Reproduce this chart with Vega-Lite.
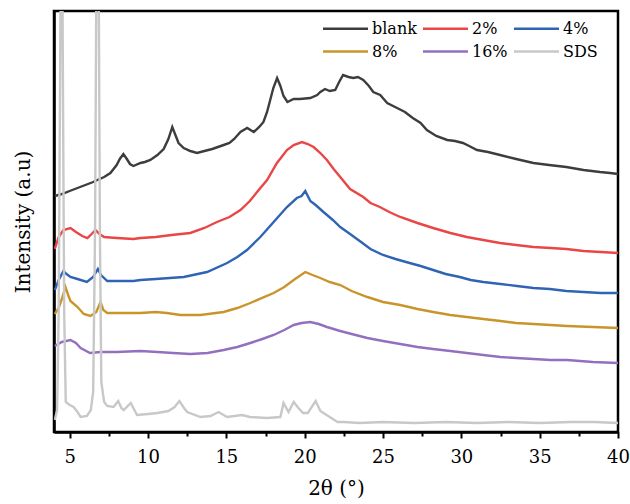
{
 "$schema": "https://vega.github.io/schema/vega-lite/v6.json",
 "width": 564, "height": 421,
 "autosize": {"type": "none"},
 "padding": {"left": 54, "top": 11, "right": 12, "bottom": 72},
 "background": "white",
 "config": {
  "font": "DejaVu Serif",
  "view": {"stroke": "black", "strokeWidth": 2.5},
  "axis": {"grid": false, "domainColor": "black", "domainWidth": 2.5, "tickColor": "black", "labelColor": "black", "titleColor": "black", "titleFontWeight": "normal", "labelFont": "DejaVu Serif", "titleFont": "DejaVu Serif"}
 },
 "datasets": {
  "xrd": [
   {"s":"blank","x":4.05,"y":236},{"s":"blank","x":4.5,"y":238},{"s":"blank","x":5,"y":241},{"s":"blank","x":5.5,"y":244},{"s":"blank","x":6,"y":247},{"s":"blank","x":6.5,"y":250},{"s":"blank","x":6.77,"y":252},{"s":"blank","x":7.2,"y":255},{"s":"blank","x":7.6,"y":259},{"s":"blank","x":8.0,"y":267},{"s":"blank","x":8.2,"y":273},{"s":"blank","x":8.43,"y":278},{"s":"blank","x":8.65,"y":273},{"s":"blank","x":8.85,"y":268},{"s":"blank","x":9.07,"y":266},{"s":"blank","x":9.52,"y":269},{"s":"blank","x":9.8,"y":270},{"s":"blank","x":10.15,"y":272},{"s":"blank","x":10.6,"y":277},{"s":"blank","x":11.0,"y":283},{"s":"blank","x":11.3,"y":293},{"s":"blank","x":11.55,"y":305},{"s":"blank","x":11.75,"y":297},{"s":"blank","x":11.95,"y":289},{"s":"blank","x":12.28,"y":284},{"s":"blank","x":12.7,"y":281},{"s":"blank","x":13.13,"y":279},{"s":"blank","x":13.6,"y":281},{"s":"blank","x":14.1,"y":283},{"s":"blank","x":14.83,"y":287},{"s":"blank","x":15.2,"y":289},{"s":"blank","x":15.5,"y":293},{"s":"blank","x":15.9,"y":300},{"s":"blank","x":16.33,"y":304},{"s":"blank","x":16.75,"y":300},{"s":"blank","x":17.1,"y":305},{"s":"blank","x":17.37,"y":310},{"s":"blank","x":17.6,"y":320},{"s":"blank","x":17.8,"y":332},{"s":"blank","x":18.0,"y":344},{"s":"blank","x":18.24,"y":354},{"s":"blank","x":18.45,"y":346},{"s":"blank","x":18.65,"y":336},{"s":"blank","x":18.9,"y":330},{"s":"blank","x":19.3,"y":333},{"s":"blank","x":19.7,"y":333},{"s":"blank","x":20.36,"y":334},{"s":"blank","x":20.8,"y":337},{"s":"blank","x":21.0,"y":340},{"s":"blank","x":21.3,"y":343},{"s":"blank","x":21.6,"y":341},{"s":"blank","x":21.95,"y":342},{"s":"blank","x":22.2,"y":350},{"s":"blank","x":22.45,"y":357},{"s":"blank","x":22.8,"y":355},{"s":"blank","x":23.1,"y":354},{"s":"blank","x":23.4,"y":355},{"s":"blank","x":23.74,"y":352},{"s":"blank","x":24.1,"y":346},{"s":"blank","x":24.38,"y":340},{"s":"blank","x":24.82,"y":337},{"s":"blank","x":25.27,"y":329},{"s":"blank","x":25.9,"y":324},{"s":"blank","x":26.4,"y":320},{"s":"blank","x":26.9,"y":314},{"s":"blank","x":27.4,"y":309},{"s":"blank","x":27.8,"y":302},{"s":"blank","x":28.4,"y":296},{"s":"blank","x":29.1,"y":292},{"s":"blank","x":29.6,"y":291},{"s":"blank","x":30.1,"y":289},{"s":"blank","x":30.5,"y":286},{"s":"blank","x":31.0,"y":282},{"s":"blank","x":31.7,"y":280},{"s":"blank","x":32.47,"y":277},{"s":"blank","x":33.5,"y":273},{"s":"blank","x":34.6,"y":269},{"s":"blank","x":35.6,"y":267},{"s":"blank","x":36.7,"y":265},{"s":"blank","x":37.8,"y":262},{"s":"blank","x":38.85,"y":260},{"s":"blank","x":39.5,"y":259},{"s":"blank","x":40,"y":258},
   {"s":"2%","x":4.05,"y":183},{"s":"2%","x":4.3,"y":195},{"s":"2%","x":4.6,"y":202},{"s":"2%","x":5.05,"y":204},{"s":"2%","x":5.4,"y":200},{"s":"2%","x":5.8,"y":196},{"s":"2%","x":6.13,"y":194},{"s":"2%","x":6.4,"y":198},{"s":"2%","x":6.65,"y":202},{"s":"2%","x":6.9,"y":198},{"s":"2%","x":7.2,"y":195},{"s":"2%","x":8.0,"y":194},{"s":"2%","x":9.07,"y":193},{"s":"2%","x":9.52,"y":194},{"s":"2%","x":10.5,"y":195},{"s":"2%","x":11.5,"y":197},{"s":"2%","x":12.7,"y":199},{"s":"2%","x":13.6,"y":204},{"s":"2%","x":14.4,"y":210},{"s":"2%","x":15.2,"y":215},{"s":"2%","x":15.9,"y":222},{"s":"2%","x":16.5,"y":231},{"s":"2%","x":16.96,"y":240},{"s":"2%","x":17.6,"y":252},{"s":"2%","x":18.23,"y":269},{"s":"2%","x":18.87,"y":282},{"s":"2%","x":19.3,"y":287},{"s":"2%","x":19.83,"y":290},{"s":"2%","x":20.2,"y":288},{"s":"2%","x":20.57,"y":285},{"s":"2%","x":21.0,"y":279},{"s":"2%","x":21.42,"y":272},{"s":"2%","x":21.85,"y":263},{"s":"2%","x":22.27,"y":255},{"s":"2%","x":22.9,"y":243},{"s":"2%","x":23.74,"y":235},{"s":"2%","x":24.2,"y":229},{"s":"2%","x":24.8,"y":225},{"s":"2%","x":25.4,"y":220},{"s":"2%","x":26.1,"y":215},{"s":"2%","x":27.2,"y":209},{"s":"2%","x":28.2,"y":204},{"s":"2%","x":29.3,"y":199},{"s":"2%","x":30.35,"y":195},{"s":"2%","x":31.4,"y":192},{"s":"2%","x":32.47,"y":189},{"s":"2%","x":33.5,"y":187},{"s":"2%","x":34.6,"y":185},{"s":"2%","x":35.7,"y":184},{"s":"2%","x":36.7,"y":183},{"s":"2%","x":37.8,"y":181},{"s":"2%","x":38.9,"y":180},{"s":"2%","x":40,"y":179},
   {"s":"4%","x":4.05,"y":142},{"s":"4%","x":4.3,"y":152},{"s":"4%","x":4.6,"y":161},{"s":"4%","x":4.8,"y":158},{"s":"4%","x":5.05,"y":155},{"s":"4%","x":5.5,"y":153},{"s":"4%","x":6.1,"y":150},{"s":"4%","x":6.5,"y":155},{"s":"4%","x":6.8,"y":163},{"s":"4%","x":7.0,"y":157},{"s":"4%","x":7.4,"y":151},{"s":"4%","x":8.2,"y":151},{"s":"4%","x":9.07,"y":151},{"s":"4%","x":9.52,"y":152},{"s":"4%","x":10.5,"y":153},{"s":"4%","x":12.28,"y":155},{"s":"4%","x":13.77,"y":160},{"s":"4%","x":15.05,"y":169},{"s":"4%","x":15.7,"y":175},{"s":"4%","x":16.32,"y":182},{"s":"4%","x":17.17,"y":195},{"s":"4%","x":18.02,"y":210},{"s":"4%","x":18.87,"y":225},{"s":"4%","x":19.5,"y":234},{"s":"4%","x":19.8,"y":236},{"s":"4%","x":20.04,"y":241},{"s":"4%","x":20.36,"y":231},{"s":"4%","x":20.7,"y":227},{"s":"4%","x":21.2,"y":220},{"s":"4%","x":21.8,"y":212},{"s":"4%","x":22.27,"y":205},{"s":"4%","x":22.9,"y":198},{"s":"4%","x":23.6,"y":190},{"s":"4%","x":24.2,"y":183},{"s":"4%","x":25.0,"y":177},{"s":"4%","x":25.8,"y":173},{"s":"4%","x":26.7,"y":169},{"s":"4%","x":27.4,"y":166},{"s":"4%","x":28.2,"y":162},{"s":"4%","x":29.0,"y":158},{"s":"4%","x":29.9,"y":155},{"s":"4%","x":30.6,"y":152},{"s":"4%","x":31.4,"y":150},{"s":"4%","x":32.5,"y":148},{"s":"4%","x":33.55,"y":146},{"s":"4%","x":34.6,"y":144},{"s":"4%","x":35.65,"y":143},{"s":"4%","x":36.7,"y":141},{"s":"4%","x":37.8,"y":140},{"s":"4%","x":38.9,"y":139},{"s":"4%","x":40,"y":139},
   {"s":"8%","x":4.05,"y":118},{"s":"8%","x":4.3,"y":124},{"s":"8%","x":4.5,"y":133},{"s":"8%","x":4.73,"y":145},{"s":"8%","x":4.9,"y":137},{"s":"8%","x":5.05,"y":131},{"s":"8%","x":5.5,"y":125},{"s":"8%","x":5.9,"y":118},{"s":"8%","x":6.33,"y":116},{"s":"8%","x":6.7,"y":120},{"s":"8%","x":6.97,"y":130},{"s":"8%","x":7.15,"y":122},{"s":"8%","x":7.4,"y":119},{"s":"8%","x":8.5,"y":119},{"s":"8%","x":9.52,"y":119},{"s":"8%","x":10.5,"y":120},{"s":"8%","x":11.2,"y":119},{"s":"8%","x":12.07,"y":117},{"s":"8%","x":13.34,"y":117},{"s":"8%","x":14.83,"y":120},{"s":"8%","x":15.7,"y":124},{"s":"8%","x":16.53,"y":129},{"s":"8%","x":18.02,"y":139},{"s":"8%","x":18.7,"y":145},{"s":"8%","x":19.3,"y":152},{"s":"8%","x":20.04,"y":160},{"s":"8%","x":20.5,"y":157},{"s":"8%","x":21.0,"y":154},{"s":"8%","x":21.6,"y":150},{"s":"8%","x":22.27,"y":147},{"s":"8%","x":23.0,"y":141},{"s":"8%","x":24.0,"y":135},{"s":"8%","x":25.0,"y":130},{"s":"8%","x":26.1,"y":127},{"s":"8%","x":27.2,"y":123},{"s":"8%","x":28.2,"y":120},{"s":"8%","x":29.3,"y":117},{"s":"8%","x":30.35,"y":115},{"s":"8%","x":31.4,"y":113},{"s":"8%","x":32.5,"y":111},{"s":"8%","x":33.5,"y":109},{"s":"8%","x":34.6,"y":108},{"s":"8%","x":35.7,"y":107},{"s":"8%","x":36.75,"y":106},{"s":"8%","x":38.4,"y":105},{"s":"8%","x":40,"y":104},
   {"s":"16%","x":4.05,"y":86},{"s":"16%","x":4.5,"y":90},{"s":"16%","x":5.05,"y":92},{"s":"16%","x":5.4,"y":89},{"s":"16%","x":5.7,"y":84},{"s":"16%","x":6.3,"y":79},{"s":"16%","x":6.97,"y":80},{"s":"16%","x":8.0,"y":80},{"s":"16%","x":9.52,"y":81},{"s":"16%","x":10.6,"y":80},{"s":"16%","x":11.6,"y":79},{"s":"16%","x":12.7,"y":78},{"s":"16%","x":13.8,"y":79},{"s":"16%","x":14.83,"y":82},{"s":"16%","x":15.7,"y":85},{"s":"16%","x":16.53,"y":89},{"s":"16%","x":17.3,"y":93},{"s":"16%","x":18.02,"y":97},{"s":"16%","x":18.7,"y":102},{"s":"16%","x":19.3,"y":107},{"s":"16%","x":19.8,"y":109},{"s":"16%","x":20.36,"y":110},{"s":"16%","x":20.9,"y":108},{"s":"16%","x":21.42,"y":105},{"s":"16%","x":22.27,"y":101},{"s":"16%","x":23.0,"y":98},{"s":"16%","x":24.0,"y":94},{"s":"16%","x":25.0,"y":91},{"s":"16%","x":26.1,"y":88},{"s":"16%","x":27.2,"y":85},{"s":"16%","x":28.2,"y":83},{"s":"16%","x":29.3,"y":81},{"s":"16%","x":30.35,"y":79},{"s":"16%","x":31.4,"y":77},{"s":"16%","x":32.5,"y":75},{"s":"16%","x":33.5,"y":74},{"s":"16%","x":34.6,"y":73},{"s":"16%","x":35.7,"y":72},{"s":"16%","x":36.75,"y":72},{"s":"16%","x":38.4,"y":70},{"s":"16%","x":40,"y":69},
   {"s":"SDS","x":4.05,"y":12},{"s":"SDS","x":4.2,"y":22},{"s":"SDS","x":4.3,"y":120},{"s":"SDS","x":4.4,"y":380},{"s":"SDS","x":4.48,"y":620},{"s":"SDS","x":4.56,"y":380},{"s":"SDS","x":4.65,"y":120},{"s":"SDS","x":4.75,"y":30},{"s":"SDS","x":5.0,"y":27},{"s":"SDS","x":5.25,"y":25},{"s":"SDS","x":5.5,"y":20},{"s":"SDS","x":5.7,"y":15},{"s":"SDS","x":6.1,"y":16},{"s":"SDS","x":6.35,"y":22},{"s":"SDS","x":6.5,"y":40},{"s":"SDS","x":6.62,"y":200},{"s":"SDS","x":6.72,"y":500},{"s":"SDS","x":6.77,"y":620},{"s":"SDS","x":6.84,"y":500},{"s":"SDS","x":6.93,"y":200},{"s":"SDS","x":7.02,"y":50},{"s":"SDS","x":7.2,"y":30},{"s":"SDS","x":7.4,"y":26},{"s":"SDS","x":7.8,"y":25},{"s":"SDS","x":8.1,"y":31},{"s":"SDS","x":8.3,"y":24},{"s":"SDS","x":8.45,"y":22},{"s":"SDS","x":8.9,"y":29},{"s":"SDS","x":9.3,"y":17},{"s":"SDS","x":10.0,"y":18},{"s":"SDS","x":10.6,"y":19},{"s":"SDS","x":11.3,"y":21},{"s":"SDS","x":11.7,"y":25},{"s":"SDS","x":12.0,"y":31},{"s":"SDS","x":12.3,"y":24},{"s":"SDS","x":12.5,"y":20},{"s":"SDS","x":13.35,"y":15},{"s":"SDS","x":14.0,"y":16},{"s":"SDS","x":14.5,"y":20},{"s":"SDS","x":15.05,"y":15},{"s":"SDS","x":16.0,"y":17},{"s":"SDS","x":16.5,"y":15},{"s":"SDS","x":17.6,"y":14},{"s":"SDS","x":18.45,"y":15},{"s":"SDS","x":18.65,"y":29},{"s":"SDS","x":18.97,"y":20},{"s":"SDS","x":19.3,"y":30},{"s":"SDS","x":19.6,"y":24},{"s":"SDS","x":19.9,"y":19},{"s":"SDS","x":20.2,"y":19},{"s":"SDS","x":20.7,"y":31},{"s":"SDS","x":21.0,"y":21},{"s":"SDS","x":21.6,"y":15},{"s":"SDS","x":22.1,"y":10},{"s":"SDS","x":22.5,"y":10},{"s":"SDS","x":23.5,"y":9},{"s":"SDS","x":25,"y":10},{"s":"SDS","x":27,"y":9},{"s":"SDS","x":29,"y":10},{"s":"SDS","x":31,"y":9},{"s":"SDS","x":33,"y":10},{"s":"SDS","x":35,"y":9},{"s":"SDS","x":37,"y":10},{"s":"SDS","x":38.5,"y":10},{"s":"SDS","x":40,"y":9}
  ]
 },
 "data": {"name": "xrd"},
 "layer": [
  {
   "mark": {"type": "line", "strokeWidth": 2.4, "clip": true},
   "encoding": {
    "x": {"field": "x", "type": "quantitative", "scale": {"domain": [4, 40], "nice": false, "zero": false},
     "axis": {"orient": "bottom", "values": [5, 10, 15, 20, 25, 30, 35, 40], "tickSize": 6, "tickWidth": 2, "labelFontSize": 18, "labelPadding": 10, "labelFlush": false, "title": "2θ (°)", "titleFontSize": 20, "titlePadding": 12}},
    "y": {"field": "y", "type": "quantitative", "scale": {"domain": [0, 421], "nice": false, "zero": false},
     "axis": {"labels": false, "ticks": false, "title": "Intensity (a.u)", "titleFontSize": 20, "titlePadding": 21}},
    "color": {"field": "s", "type": "nominal",
     "scale": {"domain": ["blank", "2%", "4%", "8%", "16%", "SDS"], "range": ["#3d3d3d", "#ea4646", "#2f64b5", "#c9952b", "#9370bf", "#c8c8c8"]},
     "legend": {"orient": "none", "legendX": 281, "legendY": 7, "columns": 3, "direction": "horizontal", "symbolType": "M-2.5,0H2.5", "symbolSize": 324, "symbolStrokeWidth": 2.5, "labelFont": "DejaVu Serif", "labelFontSize": 16, "labelColor": "black", "title": null, "columnPadding": 1, "rowPadding": 4, "labelOffset": 16, "padding": 0}}
   }
  },
  {
   "mark": {"type": "point", "opacity": 0},
   "encoding": {
    "x": {"field": "x", "type": "quantitative",
     "axis": {"orient": "bottom", "values": [7.5, 12.5, 17.5, 22.5, 27.5, 32.5, 37.5], "tickSize": 4, "tickWidth": 2, "labels": false, "domain": false, "title": null}}
   }
  }
 ],
 "resolve": {"axis": {"x": "independent"}}
}
